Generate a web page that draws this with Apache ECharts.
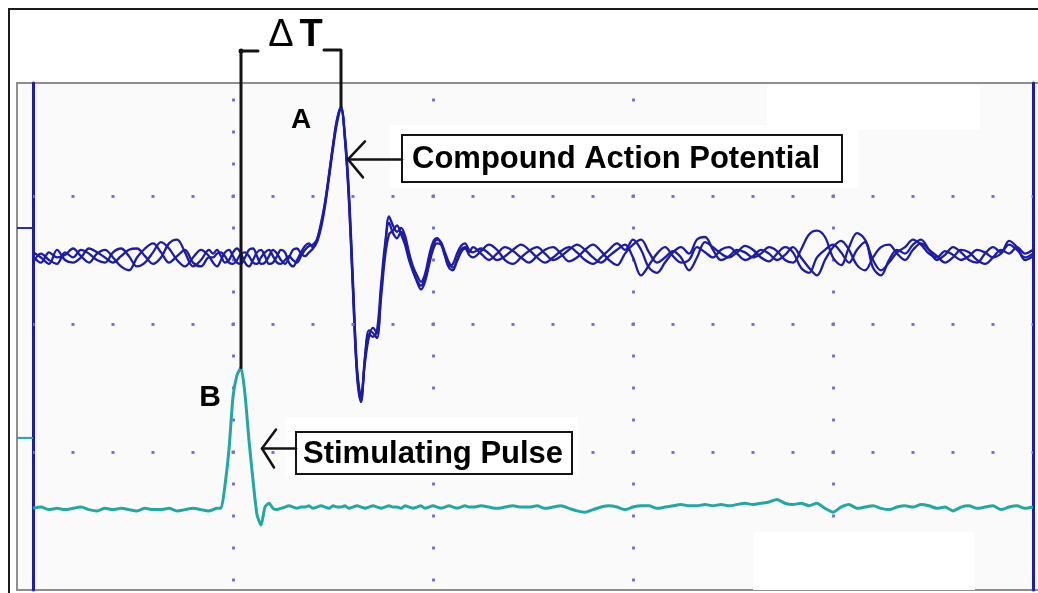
<!DOCTYPE html>
<html>
<head>
<meta charset="utf-8">
<script src="https://cdn.jsdelivr.net/npm/echarts@6/dist/echarts.min.js"></script>
<style>
html,body{margin:0;padding:0;background:#fff;}
#chart{width:1038px;height:593px;}
</style>
</head>
<body>
<div id="chart"></div>
<script>
// ---- sample times (ms) of the oscilloscope record ----
const timeMs = [
  0,0.04,0.08,0.12,0.16,0.2,0.24,0.28,0.32,0.36,0.4,0.44,0.48,0.52,0.56,0.6,0.64,0.68,0.72,0.76,0.8,0.84,0.88,
  0.90,0.92,0.94,0.96,0.98,1.00,1.02,1.04,1.06,1.08,1.10,1.12,1.14,1.16,1.18,1.20,1.22,1.24,1.26,1.28,
  1.30,1.32,1.34,1.36,1.38,1.40,1.42,1.44,1.46,1.48,1.50,1.52,1.54,1.56,1.58,1.60,1.62,1.64,1.66,1.68,
  1.70,1.72,1.74,1.76,1.78,1.80,1.82,1.84,1.86,1.88,1.90,1.92,1.94,1.96,1.98,2.00,2.02,2.04,2.06,2.08,
  2.10,2.12,2.14,2.16,2.18,
  2.20,2.24,2.28,2.32,2.36,2.40,2.44,2.48,2.52,2.56,2.60,2.64,2.68,2.72,2.76,2.80,2.84,2.88,2.92,2.96,
  3.00,3.04,3.08,3.12,3.16,3.20,3.24,3.28,3.32,3.36,3.40,3.44,3.48,3.52,3.56,3.60,3.64,3.68,3.72,3.76,
  3.80,3.84,3.88,3.92,3.96,4.00,4.04,4.08,4.12,4.16,4.20,4.24,4.28,4.32,4.36,4.40,4.44,4.48,4.52,4.56,
  4.60,4.64,4.68,4.72,4.76,4.80,4.84,4.88,4.92,4.96,5.00
];

// ---- Channel 1: compound action potential, three overlaid sweeps (div) ----
const capSweep1 = [
  1.53,1.48,1.56,1.52,1.54,1.59,1.53,1.48,1.55,1.58,1.52,1.45,1.42,1.52,1.59,1.63,1.56,1.48,1.53,1.58,1.48,1.45,1.52,
  1.52,1.55,1.56,1.53,1.48,1.47,1.50,1.55,1.56,1.53,
  1.48,1.47,1.52,1.56,1.58,1.53,1.48,1.47,1.50,1.53,
  1.50,1.48,1.53,1.58,1.61,1.62,1.66,1.77,1.94,2.16,
  2.39,2.59,2.70,2.45,1.98,1.28,0.63,0.41,0.75,0.95,
  0.93,0.89,1.25,1.58,1.84,1.77,1.72,1.75,1.69,1.56,
  1.45,1.38,1.33,1.39,1.53,1.64,1.67,1.63,1.53,1.45,
  1.47,1.55,1.61,1.63,1.58,
  1.56,1.59,1.55,1.50,1.53,1.58,1.62,1.58,1.52,1.48,
  1.52,1.57,1.60,1.56,1.50,1.47,1.52,1.58,1.63,1.58,
  1.66,1.58,1.44,1.40,1.48,1.56,1.60,1.55,1.66,1.68,
  1.58,1.50,1.53,1.58,1.56,1.52,1.55,1.60,1.57,1.50,
  1.48,1.58,1.70,1.73,1.68,1.52,1.46,1.60,1.71,1.66,
  1.50,1.42,1.48,1.56,1.60,1.66,1.62,1.55,1.52,1.57,
  1.54,1.50,1.53,1.58,1.56,1.52,1.55,1.62,1.58,1.52,
  1.55
];
const capSweep2 = [
  1.48,1.55,1.50,1.47,1.56,1.52,1.58,1.55,1.50,1.48,1.56,1.59,1.53,1.45,1.48,1.56,1.64,1.59,1.50,1.45,1.52,1.58,1.53,
  1.48,1.45,1.50,1.56,1.58,1.53,1.48,1.47,1.52,1.58,
  1.59,1.53,1.47,1.48,1.53,1.58,1.55,1.50,1.47,1.52,
  1.58,1.59,1.55,1.53,1.56,1.59,1.64,1.75,1.92,2.14,
  2.37,2.57,2.68,2.47,2.02,1.33,0.66,0.44,0.70,0.90,
  0.97,0.93,1.20,1.52,1.70,1.73,1.77,1.70,1.62,1.50,
  1.41,1.34,1.30,1.36,1.48,1.60,1.66,1.64,1.56,1.48,
  1.44,1.49,1.56,1.59,1.56,
  1.60,1.55,1.50,1.55,1.60,1.57,1.52,1.48,1.53,1.58,
  1.60,1.55,1.49,1.52,1.58,1.62,1.57,1.50,1.46,1.55,
  1.62,1.66,1.56,1.48,1.52,1.57,1.52,1.42,1.52,1.64,
  1.60,1.55,1.52,1.56,1.61,1.58,1.52,1.49,1.55,1.60,
  1.56,1.44,1.40,1.52,1.58,1.62,1.56,1.48,1.58,1.64,
  1.44,1.38,1.50,1.58,1.55,1.62,1.66,1.58,1.50,1.54,
  1.60,1.56,1.50,1.48,1.55,1.60,1.56,1.65,1.60,1.50,
  1.53
];
const capSweep3 = [
  1.56,1.52,1.47,1.58,1.50,1.48,1.52,1.59,1.56,1.52,1.48,1.53,1.58,1.59,1.53,1.47,1.52,1.63,1.66,1.56,1.45,1.50,1.58,
  1.55,1.58,1.53,1.48,1.50,1.56,1.59,1.55,1.48,1.45,
  1.50,1.56,1.58,1.53,1.47,1.48,1.53,1.58,1.56,1.48,
  1.45,1.50,1.56,1.61,1.63,1.60,1.66,1.79,1.95,2.17,
  2.40,2.60,2.69,2.43,1.95,1.25,0.60,0.39,0.73,0.92,
  0.90,0.95,1.30,1.62,1.79,1.71,1.67,1.72,1.66,1.53,
  1.42,1.33,1.27,1.33,1.46,1.58,1.63,1.62,1.54,1.44,
  1.42,1.50,1.58,1.60,1.54,
  1.52,1.57,1.62,1.58,1.50,1.47,1.52,1.57,1.60,1.55,
  1.50,1.53,1.58,1.62,1.58,1.52,1.48,1.53,1.58,1.62,
  1.52,1.38,1.46,1.55,1.60,1.53,1.48,1.50,1.60,1.56,
  1.52,1.58,1.60,1.55,1.50,1.53,1.58,1.55,1.50,1.54,
  1.60,1.52,1.44,1.38,1.50,1.60,1.65,1.58,1.46,1.42,
  1.52,1.60,1.62,1.55,1.50,1.58,1.63,1.58,1.53,1.48,
  1.52,1.58,1.56,1.50,1.47,1.52,1.58,1.55,1.60,1.55,
  1.58
];

// ---- Channel 2: stimulating pulse (div) ----
const stimPulse = [
  -0.44,-0.43,-0.45,-0.44,-0.45,-0.44,-0.43,-0.45,-0.46,-0.44,-0.45,-0.44,-0.45,-0.46,-0.44,-0.45,-0.45,-0.44,-0.46,-0.45,-0.44,-0.45,-0.46,
  -0.45,-0.44,-0.44,-0.26,0.02,0.43,0.60,0.66,0.45,0.09,
  -0.22,-0.49,-0.57,-0.43,-0.40,-0.44,-0.45,-0.44,-0.43,-0.42,
  -0.43,-0.44,-0.43,-0.43,-0.42,-0.44,-0.43,-0.42,-0.43,-0.44,
  -0.42,-0.43,-0.43,-0.42,-0.44,-0.43,-0.42,-0.43,-0.44,-0.43,
  -0.42,-0.43,-0.44,-0.43,-0.42,-0.43,-0.43,-0.44,-0.42,-0.43,
  -0.44,-0.43,-0.42,-0.44,-0.43,-0.42,-0.43,-0.44,-0.43,-0.42,
  -0.43,-0.44,-0.43,-0.42,-0.43,
  -0.43,-0.42,-0.43,-0.44,-0.43,-0.42,-0.43,-0.43,-0.42,-0.44,
  -0.43,-0.42,-0.44,-0.46,-0.47,-0.45,-0.43,-0.42,-0.43,-0.45,
  -0.43,-0.42,-0.42,-0.44,-0.43,-0.42,-0.41,-0.42,-0.42,-0.41,
  -0.42,-0.41,-0.42,-0.41,-0.40,-0.41,-0.40,-0.39,-0.37,-0.40,
  -0.41,-0.40,-0.42,-0.40,-0.44,-0.47,-0.43,-0.41,-0.44,-0.43,
  -0.42,-0.44,-0.45,-0.43,-0.42,-0.43,-0.41,-0.42,-0.44,-0.43,
  -0.46,-0.43,-0.42,-0.44,-0.43,-0.42,-0.45,-0.43,-0.42,-0.44,
  -0.43
];

// ---- screen / graticule ----
const timeRange = [0, 5];          // 5 horizontal divisions
const voltRange = [-1.078, 2.883]; // visible vertical span (div)
const graticuleRows = [0, 1, 2];   // dotted horizontal division lines
const channelMarkers = [1.75, 0.11]; // channel reference marks on the left edge

// ---- annotation texts ----
const capLabel = 'Compound Action Potential';
const stimLabel = 'Stimulating Pulse';

const BLUE = '#1c1ca6';
const CYAN = '#22a8a2';
const DOT = '#7474cc';
const FONT = '"Liberation Sans", Arial, sans-serif';

const chart = echarts.init(document.getElementById('chart'), null, {renderer: 'canvas'});

function trace(name, values, color, width, smooth) {
  return {
    name, type: 'line', silent: true, animation: false, z: 3,
    symbol: 'none', showSymbol: false, smooth: smooth,
    lineStyle: {color: color, width: width},
    emphasis: {disabled: true},
    data: timeMs.map((t, i) => [t, values[i]])
  };
}

const option = {
  backgroundColor: '#ffffff',
  animation: false,
  grid: {left: 33, right: 5, top: 83, bottom: 3, containLabel: false},
  xAxis: {
    type: 'value', min: timeRange[0], max: timeRange[1], interval: 1,
    axisLine: {show: false}, axisTick: {show: false}, axisLabel: {show: false},
    splitLine: {show: true, showMinLine: false, showMaxLine: false,
      lineStyle: {color: DOT, width: 3, type: [3, 29], dashOffset: 16.5}}
  },
  yAxis: [
    {type: 'value', min: voltRange[0], max: voltRange[1], position: 'left',
      axisLine: {show: true, onZero: false, lineStyle: {color: '#1c1cb4', width: 3}},
      axisTick: {show: false}, axisLabel: {show: false}, splitLine: {show: false}},
    {type: 'value', min: voltRange[0], max: voltRange[1], position: 'right',
      axisLine: {show: true, onZero: false, lineStyle: {color: '#1c1cb4', width: 3}},
      axisTick: {show: false}, axisLabel: {show: false}, splitLine: {show: false}}
  ],
  series: [
    {
      name: 'graticule', type: 'line', data: [], silent: true, z: 1, animation: false,
      markLine: {
        silent: true, animation: false, symbol: ['none', 'none'],
        label: {show: false}, emphasis: {disabled: true},
        lineStyle: {color: DOT, width: 3, type: [3, 37], dashOffset: 1.5},
        data: graticuleRows.map(v => ({yAxis: v}))
      }
    },
    trace('CAP sweep 1', capSweep1, BLUE, 2.3, 0.35),
    trace('CAP sweep 2', capSweep2, BLUE, 2.3, 0.35),
    trace('CAP sweep 3', capSweep3, BLUE, 2.3, 0.35),
    trace('Stimulating pulse', stimPulse, CYAN, 3, 0.2)
  ]
};
chart.setOption(option);

// ---- annotations anchored to the data ----
const argmax = arr => arr.reduce((b, v, i) => (v > arr[b] ? i : b), 0);
const capIdx = argmax(capSweep1);
const stimIdx = argmax(stimPulse);
const toPx = (t, v) => chart.convertToPixel({gridIndex: 0}, [t, v]);
const pA = toPx(timeMs[capIdx], capSweep1[capIdx]);
const pB = toPx(timeMs[stimIdx], stimPulse[stimIdx]);
const gridLeft = toPx(timeRange[0], 0)[0];

const ink = '#141414';
function txt(x, y, text, size, weight, align) {
  return {type: 'text', z: 20, silent: true,
    style: {x: x, y: y, text: text, fill: '#000', fontSize: size, fontWeight: weight,
      fontFamily: FONT, align: align || 'left', verticalAlign: 'middle',
      textAlign: align || 'left', textVerticalAlign: 'middle'}};
}
function poly(points, width) {
  return {type: 'polyline', z: 20, silent: true, shape: {points: points},
    style: {stroke: ink, lineWidth: width || 2.5, fill: null, lineJoin: 'round', lineCap: 'round'}};
}
function rect(x, y, w, h, fill, stroke, lw, z) {
  return {type: 'rect', z: z, silent: true, shape: {x: x, y: y, width: w, height: h},
    style: {fill: fill, stroke: stroke || null, lineWidth: lw || 0}};
}

const bracketY = 51;
const capTip = [pA[0] + 7, pA[1] + 53];
const stimTip = [pB[0] + 21, pB[1] + 81];
const capBox = {x: 402, y: 135, w: 440, h: 47};
const stimBox = {x: 296, y: 432, w: 276, h: 42};

const graphics = [
  // outer picture border and scope screen frame
  rect(9, 9, 1040, 600, null, '#1a1a1a', 2, -20),
  rect(17, 83, 1030, 507, '#fafafa', '#8e8e8e', 2, -10),
  // white patches (erased areas)
  rect(767, 86, 213, 44, '#ffffff', null, 0, 2),
  rect(753, 532, 222, 58, '#ffffff', null, 0, 2),
  rect(390, 125, 468, 63, '#ffffff', null, 0, 2),
  rect(285, 417, 293, 60, '#ffffff', null, 0, 2),
  // channel reference markers
  {type: 'line', z: 5, silent: true, shape: {x1: 17, y1: toPx(0, channelMarkers[0])[1], x2: gridLeft, y2: toPx(0, channelMarkers[0])[1]},
    style: {stroke: '#2a2ab4', lineWidth: 2}},
  {type: 'line', z: 5, silent: true, shape: {x1: 17, y1: toPx(0, channelMarkers[1])[1], x2: gridLeft, y2: toPx(0, channelMarkers[1])[1]},
    style: {stroke: CYAN, lineWidth: 2}},
  // ΔT bracket
  poly([[pB[0], pB[1]], [pB[0], bracketY], [pB[0] + 17, bracketY]], 3),
  poly([[pA[0] - 17, bracketY - 1], [pA[0], bracketY - 1], [pA[0], pA[1]]], 3),
  {type: 'circle', z: 21, silent: true, shape: {cx: pB[0], cy: bracketY, r: 2.5}, style: {fill: ink}},
  txt((pA[0] + pB[0]) / 2 - 10, 36, 'Δ', 38, 'normal', 'center'),
  txt((pA[0] + pB[0]) / 2 + 20, 36, 'T', 38, 'bold', 'center'),
  // peak labels
  txt(pA[0] - 40, pA[1] + 14, 'A', 28, 'bold', 'center'),
  txt(pB[0] - 31, pB[1] + 30, 'B', 30, 'bold', 'center'),
  // compound action potential callout
  poly([[capTip[0] + 17, capTip[1] - 18], capTip, [capTip[0] + 15, capTip[1] + 18]], 2.5),
  poly([capTip, [capBox.x, capTip[1]]], 2.5),
  rect(capBox.x, capBox.y, capBox.w, capBox.h, '#ffffff', ink, 2, 19),
  txt(capBox.x + 10, capBox.y + capBox.h / 2 + 1, capLabel, 31, 'bold', 'left'),
  // stimulating pulse callout
  poly([[stimTip[0] + 14, stimTip[1] - 19], stimTip, [stimTip[0] + 12, stimTip[1] + 19]], 2.5),
  poly([stimTip, [stimBox.x, stimTip[1]]], 2.5),
  rect(stimBox.x, stimBox.y, stimBox.w, stimBox.h, '#ffffff', ink, 2, 19),
  txt(stimBox.x + 7, stimBox.y + stimBox.h / 2 + 1, stimLabel, 31, 'bold', 'left')
];
chart.setOption({graphic: {elements: graphics}});
</script>
</body>
</html>
